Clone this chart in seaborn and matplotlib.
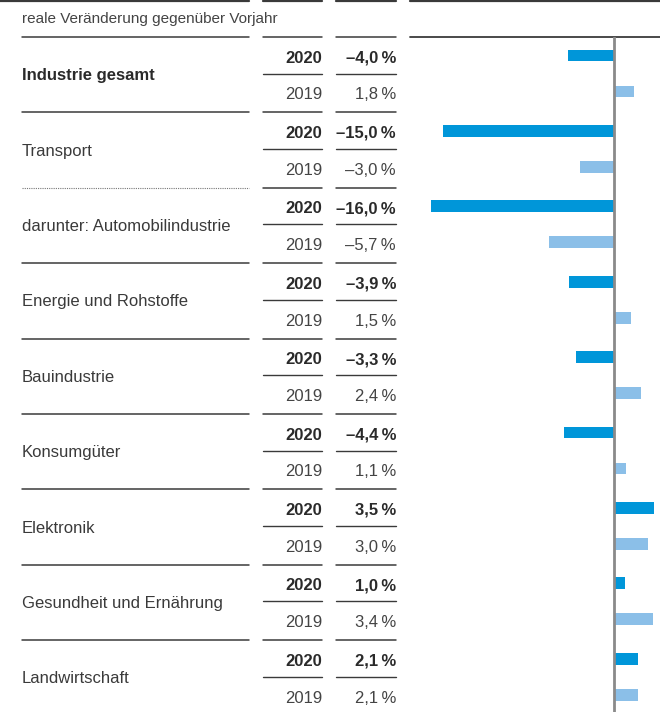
import matplotlib
matplotlib.use("Agg")
import matplotlib.pyplot as plt
import matplotlib.transforms as mtransforms
import seaborn as sns
import pandas as pd

categories = ["Industrie gesamt", "Transport", "darunter: Automobilindustrie",
              "Energie und Rohstoffe", "Bauindustrie", "Konsumgüter",
              "Elektronik", "Gesundheit und Ernährung", "Landwirtschaft"]
values_2020 = [-4.0, -15.0, -16.0, -3.9, -3.3, -4.4, 3.5, 1.0, 2.1]
values_2019 = [1.8, -3.0, -5.7, 1.5, 2.4, 1.1, 3.0, 3.4, 2.1]
years = ["2020", "2019"]
header = "reale Veränderung gegenüber Vorjahr"

col_2020 = "#0096d9"
col_2019 = "#8bbfe8"
dark = "#3a3a3a"
txt = "#2a2a2a"

sns.set_theme(style="white")
plt.rcParams["font.family"] = ["Liberation Sans", "DejaVu Sans"]

W, H = 660, 712
fig = plt.figure(figsize=(W / 100, H / 100), dpi=100)

# bar axes: x from 410px to 660px, y from 37px (top) down to bottom
ax = fig.add_axes([410 / W, 0, 250 / W, (H - 37) / H])

df = pd.DataFrame({
    "group": categories * 2,
    "year": [years[0]] * len(categories) + [years[1]] * len(categories),
    "value": values_2020 + values_2019,
})
sns.barplot(data=df, y="group", x="value", hue="year", hue_order=years,
            palette=[col_2020, col_2019], order=categories, orient="h",
            width=0.955, gap=0.67, saturation=1, legend=False, ax=ax,
            errorbar=None, linewidth=0)

px_per_unit = 11.4
zero_px = 613.8
ax.set_xlim(-(zero_px - 410) / px_per_unit, (660 - zero_px) / px_per_unit)
gs = 75.4  # group spacing in px
top_off = 36.5 / gs
ax.set_ylim((H - 73.5) / gs, -top_off)
ax.axvline(0, color="#8a8a8a", lw=2.0, zorder=5)
for s in ax.spines.values():
    s.set_visible(False)
ax.set_xticks([])
ax.set_yticks([])
ax.set_xlabel("")
ax.set_ylabel("")

blend = mtransforms.blended_transform_factory(fig.transFigure, ax.transData)


def hline(x0, x1, y, **kw):
    ax.plot([x0 / W, x1 / W], [y, y], transform=blend, clip_on=False, **kw)


# top border line
for x0, x1 in [(0, 249), (263, 322), (336, 396), (410, 660)]:
    fig.add_artist(plt.Line2D([x0 / W, x1 / W], [1 - 0.8 / H, 1 - 0.8 / H],
                              color=dark, lw=1.6, transform=fig.transFigure))

fig.text(22 / W, 1 - 17.5 / H, header, ha="left", va="center_baseline",
         fontsize=11, color="#444444")

# bar area top line
hline(410, 660, -top_off, color=dark, lw=1.3)

for i, cat in enumerate(categories):
    ysep = i - top_off
    if cat.startswith("darunter"):
        hline(22, 249, ysep, color="#777777", lw=0.8, ls=(0, (1, 1)))
    else:
        hline(22, 249, ysep, color=dark, lw=1.1)
    hline(263, 322, ysep, color=dark, lw=1.1)
    hline(336, 396, ysep, color=dark, lw=1.1)
    hline(263, 322, i, color=dark, lw=1.0)
    hline(336, 396, i, color=dark, lw=1.0)

    bold = i == 0
    ax.text(22 / W, i + 0.01, cat, transform=blend, ha="left",
            va="center_baseline", fontsize=12,
            color=txt if bold else "#3a3a3a",
            fontweight="bold" if bold else "normal")
    for j, (yr, v) in enumerate(zip(years, [values_2020[i], values_2019[i]])):
        yy = i - 0.225 if j == 0 else i + 0.265
        w = "bold" if j == 0 else "normal"
        c = txt if j == 0 else "#444444"
        vs = f"{abs(v):.1f}".replace(".", ",")
        vs = ("–" if v < 0 else "") + vs + "\u2009%"
        ax.text(322 / W, yy, yr, transform=blend, ha="right",
                va="center_baseline", fontsize=12, color=c, fontweight=w)
        ax.text(396 / W, yy, vs, transform=blend, ha="right",
                va="center_baseline", fontsize=12, color=c, fontweight=w)

fig.savefig("out.png", dpi=100)
